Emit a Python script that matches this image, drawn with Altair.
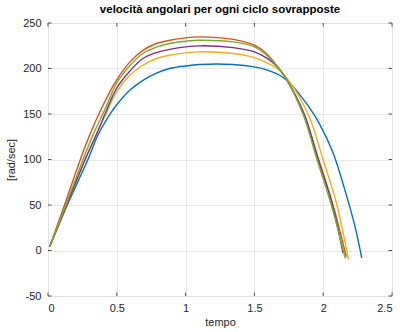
import altair as alt
import pandas as pd

title_text = "velocità angolari per ogni ciclo sovrapposte"
x_title = "tempo"
y_title = "[rad/sec]"

x_ticks = [0, 0.5, 1, 1.5, 2, 2.5]
y_ticks = [-50, 0, 50, 100, 150, 200, 250]

series_names = ["ciclo 1", "ciclo 2", "ciclo 3", "ciclo 4", "ciclo 5"]
series_colors = ["#0072BD", "#D95319", "#EDB120", "#7E2F8E", "#77AC30"]

# ciclo 1 (blue)
t1 = [0.012, 0.14, 0.29, 0.363, 0.43, 0.497, 0.594, 0.69, 0.788, 0.884, 1.0, 1.1, 1.345, 1.5, 1.6,
      1.684, 1.757, 1.83, 1.9, 1.97, 2.07, 2.17, 2.23, 2.28]
v1 = [4, 50, 100, 127, 145, 159.6, 176, 187, 195, 200, 202.8, 204.4, 204.4, 201.8, 198,
      192.6, 184, 171, 157, 140, 108, 60, 27, -8]
# ciclo 2 (red)
t2 = [0.012, 0.12, 0.235, 0.303, 0.4, 0.497, 0.594, 0.69, 0.788, 0.884, 1.0, 1.1, 1.345, 1.5, 1.587,
      1.66, 1.733, 1.858, 1.967, 2.071, 2.168]
v2 = [4, 50, 100, 127, 159.6, 187, 207, 220, 227.5, 231, 233.7, 234.8, 232, 225.6, 216.5,
      203.6, 188, 150, 100, 50, -7]
# ciclo 3 (yellow)
t3 = [0.012, 0.135, 0.27, 0.35, 0.42, 0.497, 0.594, 0.69, 0.788, 0.884, 1.0, 1.1, 1.345, 1.5, 1.587,
      1.66, 1.733, 1.89, 1.999, 2.10, 2.183]
v3 = [4, 50, 100, 127, 150, 174, 192.6, 203.6, 211, 214.6, 217.2, 218.3, 216.5, 212, 206.6,
      200.7, 190, 150, 100, 50, -10]
# ciclo 4 (purple)
t4 = [0.012, 0.135, 0.27, 0.35, 0.42, 0.497, 0.594, 0.69, 0.788, 0.884, 1.0, 1.1, 1.345, 1.5, 1.587,
      1.66, 1.733, 1.862, 1.963, 2.067, 2.144]
v4 = [4, 50, 100, 127, 152, 178, 197, 211, 217.5, 221, 223.8, 224.9, 223, 218.3, 211.7,
      203, 188, 150, 100, 50, -3]
# ciclo 5 (green)
t5 = [0.012, 0.13, 0.255, 0.327, 0.42, 0.497, 0.594, 0.69, 0.788, 0.884, 1.0, 1.1, 1.345, 1.5, 1.587,
      1.66, 1.733, 1.853, 1.955, 2.059, 2.161]
v5 = [4, 50, 100, 127, 157, 183.5, 203, 216.5, 223.5, 227.5, 230, 231, 229.3, 223.8, 215,
      203.6, 188, 150, 100, 50, -9]

rows = []
for name, ts, vs in zip(series_names, [t1, t2, t3, t4, t5], [v1, v2, v3, v4, v5]):
    for i, (t, v) in enumerate(zip(ts, vs)):
        rows.append({"serie": name, "t": t, "v": v, "i": i})
df = pd.DataFrame(rows)

W, H = 344, 273
xs = alt.Scale(domain=[0, 2.5], nice=False, zero=False)
ys = alt.Scale(domain=[-50, 250], nice=False, zero=False)

axis_common = dict(
    labelFont="Liberation Sans", labelFontSize=11, labelColor="#262626",
    titleFont="Liberation Sans", titleFontSize=11, titleColor="#262626", titleFontWeight="normal",
    gridColor="#e3e3e3", gridWidth=0.8, domain=False, ticks=False,
    labelExpr="datum.value",
)

lines = alt.Chart(df).mark_line(strokeWidth=1.4, interpolate="catmull-rom").encode(
    x=alt.X("t:Q", scale=xs,
            axis=alt.Axis(values=x_ticks, title=x_title, labelPadding=6, titlePadding=3, **axis_common)),
    y=alt.Y("v:Q", scale=ys,
            axis=alt.Axis(values=y_ticks, title=y_title, labelPadding=7, titlePadding=6, **axis_common)),
    color=alt.Color("serie:N", scale=alt.Scale(domain=series_names, range=series_colors), legend=None),
    order="i:Q",
)

xt = pd.DataFrame({"t": x_ticks})
yt = pd.DataFrame({"v": y_ticks})
tick_color = "#262626"
xb = alt.Chart(xt).mark_rule(color=tick_color, strokeWidth=0.8).encode(
    x=alt.X("t:Q", scale=xs), y=alt.value(H), y2=alt.value(H - 3.5))
xtop = alt.Chart(xt).mark_rule(color=tick_color, strokeWidth=0.8).encode(
    x=alt.X("t:Q", scale=xs), y=alt.value(0), y2=alt.value(3.5))
yl = alt.Chart(yt).mark_rule(color=tick_color, strokeWidth=0.8).encode(
    y=alt.Y("v:Q", scale=ys), x=alt.value(0), x2=alt.value(3.5))
yr = alt.Chart(yt).mark_rule(color=tick_color, strokeWidth=0.8).encode(
    y=alt.Y("v:Q", scale=ys), x=alt.value(W), x2=alt.value(W - 3.5))

chart = alt.layer(lines, xb, xtop, yl, yr).properties(
    width=W, height=H,
    title=alt.TitleParams(title_text, font="Liberation Sans", fontSize=11.5, fontWeight="bold",
                          color="#000000", offset=2, anchor="middle"),
    autosize=alt.AutoSizeParams(type="none"),
    padding={"left": 48, "top": 23, "right": 8, "bottom": 36},
).configure_view(stroke="#262626", strokeWidth=1).configure(background="white")

chart.save("out.html", embed_options={"renderer": "svg", "actions": False})
